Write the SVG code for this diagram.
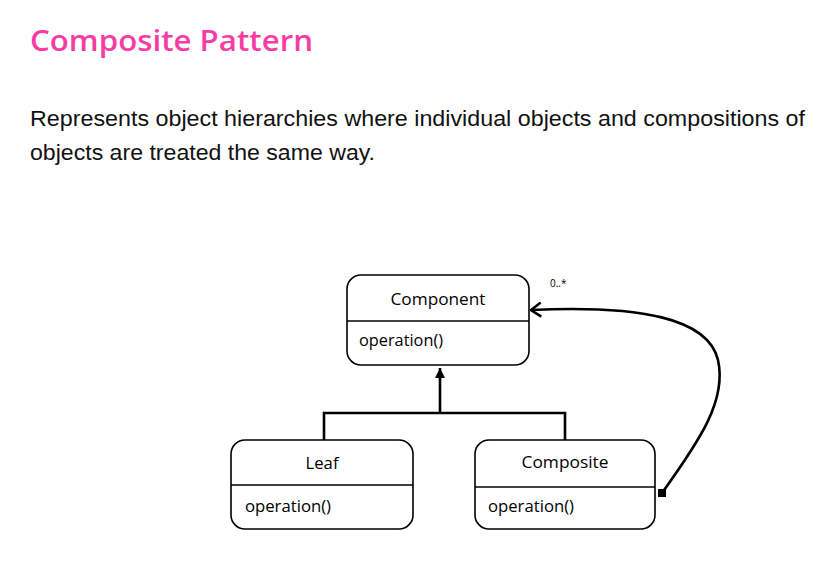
<svg xmlns="http://www.w3.org/2000/svg" width="829" height="564" viewBox="0 0 829 564">
<style>
.title{font-family:"Open Sans","Liberation Sans",sans-serif;font-size:29px;fill:#f73da5;font-weight:600}
.desc{font-family:"Liberation Sans",Arial,sans-serif;font-size:22px;fill:#111}
.box{fill:#fff;stroke:#000;stroke-width:1.6}
.div{stroke:#000;stroke-width:1.3}
.name{font-family:"Open Sans","Liberation Sans",sans-serif;font-size:15.5px;fill:#000;text-anchor:middle}
.op{font-family:"Open Sans","Liberation Sans",sans-serif;font-size:15.5px;fill:#000}
.small{font-family:"Open Sans","Liberation Sans",sans-serif;font-size:10px;fill:#000}
.line{fill:none;stroke:#000;stroke-width:2.6}
</style>
<defs>
<marker id="tri" viewBox="0 0 10 10" refX="10" refY="5" markerWidth="10" markerHeight="10" markerUnits="userSpaceOnUse" orient="auto">
<path d="M0,0 L10,5 L0,10 Z" fill="#000"/>
</marker>
<marker id="open" viewBox="0 0 12 16" refX="11" refY="8" markerWidth="12" markerHeight="16" markerUnits="userSpaceOnUse" orient="auto">
<path d="M1,1 L11,8 L1,15" fill="none" stroke="#000" stroke-width="2.6"/>
</marker>
<marker id="sq" viewBox="0 0 8 8" refX="4" refY="4" markerWidth="8" markerHeight="8" markerUnits="userSpaceOnUse" orient="0">
<rect x="0" y="0" width="8" height="8" fill="#000"/>
</marker>
</defs>
<text class="title" x="30" y="51" textLength="283" lengthAdjust="spacingAndGlyphs">Composite Pattern</text>
<text class="desc" x="30" y="126" textLength="775" lengthAdjust="spacingAndGlyphs">Represents object hierarchies where individual objects and compositions of</text>
<text class="desc" x="30" y="160" textLength="345" lengthAdjust="spacingAndGlyphs">objects are treated the same way.</text>
<g id="connectors">
<path class="line" d="M324,440 V413 H565 V440"/>
<path class="line" d="M440,413 V368" marker-end="url(#tri)"/>
<path class="line" d="M662,493 C700,440 727,400 718,360 C708,318 640,305 531,310" marker-start="url(#sq)" marker-end="url(#open)"/>
<text class="small" x="550" y="287">0..*</text>
</g>
<g id="component">
<rect class="box" x="347" y="275" width="182" height="90" rx="14"/>
<line class="div" x1="347" y1="321" x2="529" y2="321"/>
<text class="name" x="438" y="305" textLength="95" lengthAdjust="spacingAndGlyphs">Component</text>
<text class="op" x="359" y="346" textLength="84" lengthAdjust="spacingAndGlyphs">operation()</text>
</g>
<g id="leaf">
<rect class="box" x="231" y="440" width="182" height="89" rx="14"/>
<line class="div" x1="231" y1="485" x2="413" y2="485"/>
<text class="name" x="322" y="469" textLength="33" lengthAdjust="spacingAndGlyphs">Leaf</text>
<text class="op" x="245" y="512" textLength="86" lengthAdjust="spacingAndGlyphs">operation()</text>
</g>
<g id="composite">
<rect class="box" x="475" y="440" width="180" height="89" rx="14"/>
<line class="div" x1="475" y1="487" x2="655" y2="487"/>
<text class="name" x="565" y="468" textLength="87" lengthAdjust="spacingAndGlyphs">Composite</text>
<text class="op" x="488" y="512" textLength="86" lengthAdjust="spacingAndGlyphs">operation()</text>
</g>
</svg>
